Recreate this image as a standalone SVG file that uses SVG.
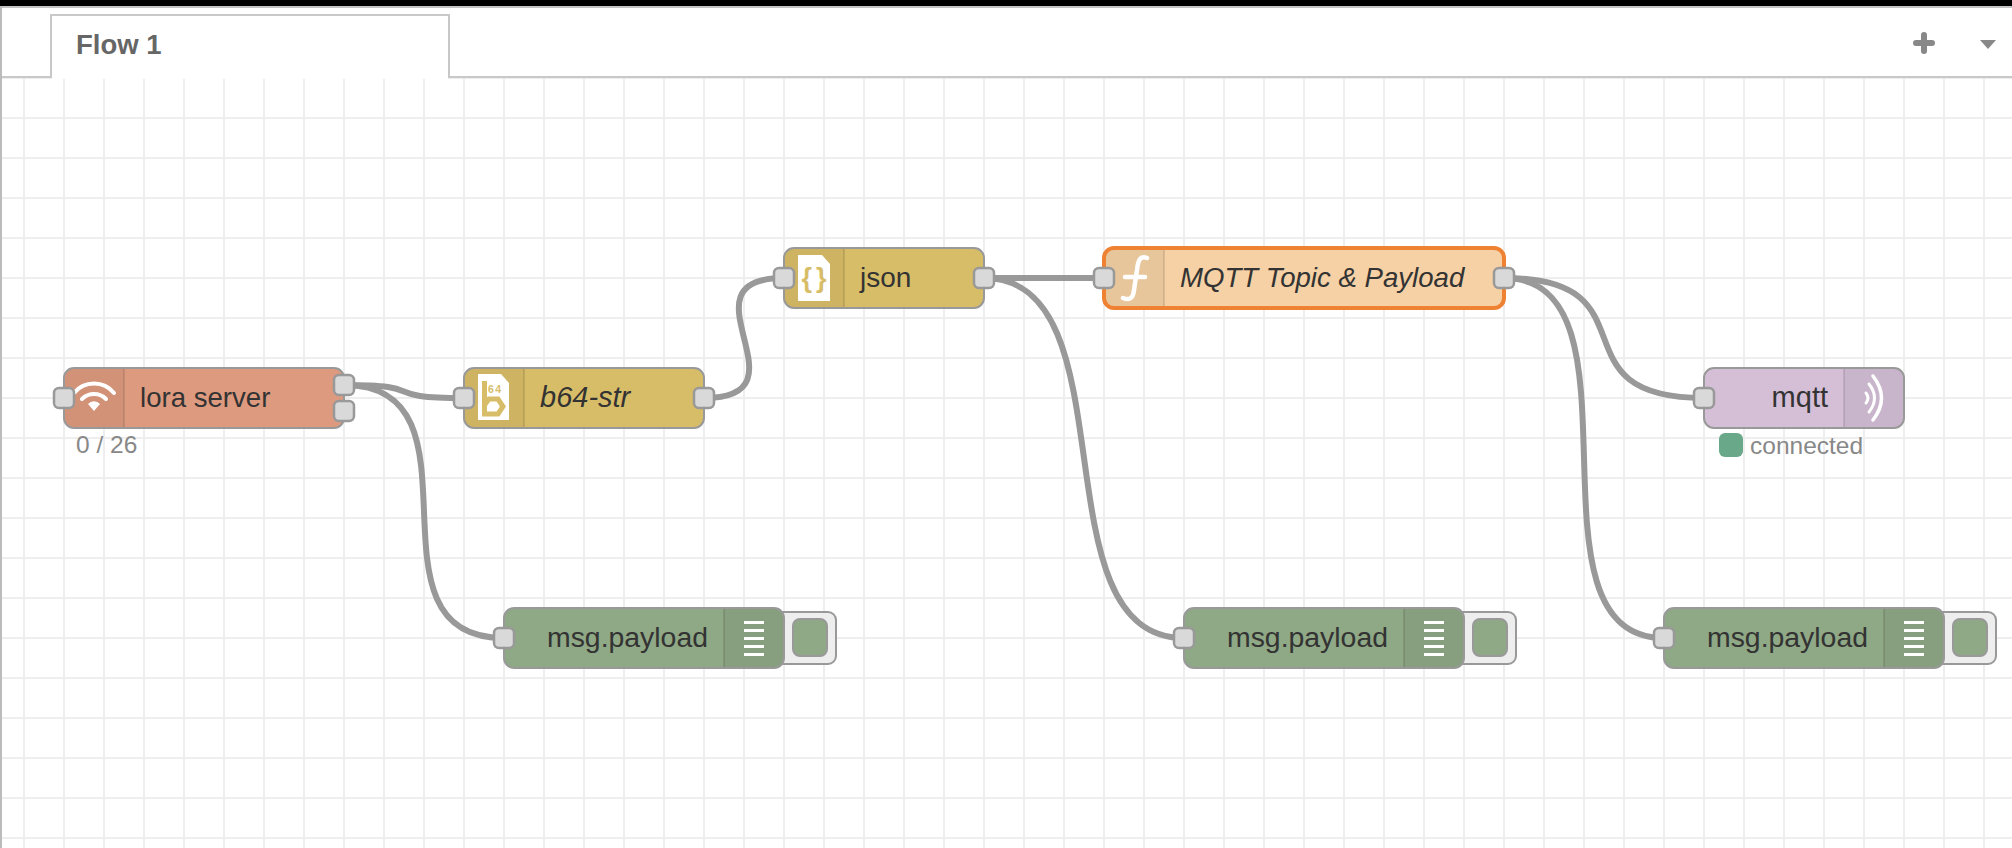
<svg xmlns="http://www.w3.org/2000/svg" width="2012" height="848" viewBox="0 0 2012 848">
<style>
text{font-family:"Liberation Sans",Arial,sans-serif}
.n{stroke:#999;stroke-width:2}
.ic{fill:#000;fill-opacity:.05}
.dv{stroke:#000;stroke-opacity:.1;stroke-width:2}
.l{font-size:28px;fill:#333}
.m{font-size:28.4px}
.i{font-style:italic}
.p{fill:#d9d9d9;stroke:#999;stroke-width:2.5}
.w{fill:none;stroke:#999;stroke-width:6}
.s{font-size:24.5px;fill:#888}
.ws{fill:none;stroke:#fff;stroke-width:4;stroke-linecap:round}
.d{fill:#8fa885}
.b{fill:#eee;stroke:#999;stroke-width:2}
</style>
<defs>
<pattern id="grid" patternUnits="userSpaceOnUse" x="4" y="58" width="40" height="40">
<path d="M20 0V40M0 20H40" stroke="#eee" stroke-width="2" fill="none"/>
</pattern>
<g id="dbgbars" fill="#fff"><rect x="0" y="0" width="20" height="3"/><rect x="0" y="8" width="20" height="3"/><rect x="0" y="16" width="20" height="3"/><rect x="0" y="24" width="20" height="3"/><rect x="0" y="32" width="20" height="3"/></g>
</defs>
<rect width="2012" height="848" fill="#fff"/>
<rect x="2" y="77" width="2010" height="771" fill="url(#grid)"/>
<g id="chrome">
<rect x="0" y="0" width="2012" height="6" fill="#000"/>
<rect x="0" y="6" width="2012" height="2" fill="#c4c4c4"/>
<rect x="0" y="6" width="2" height="842" fill="#bbb"/>
<path d="M2 77H51V15H449V77H2012" fill="none" stroke="#c8c8c8" stroke-width="2"/>
<rect x="52" y="16" width="396" height="63" fill="#fff"/>
<text x="76" y="54" font-size="27.5" font-weight="700" fill="#666">Flow 1</text>
<path d="M1916 43H1932M1924 35V51" stroke="#888" stroke-width="6" stroke-linecap="round"/>
<path d="M1980 40H1996L1988 49Z" fill="#888"/>
</g>
<g id="connectors">
<path class="w" d="M344 385C434 385 374 398 464 398"/>
<path class="w" d="M344 385C494 385 354 638 504 638"/>
<path class="w" d="M704 398C814 398 674 278 784 278"/>
<path class="w" d="M984 278H1104"/>
<path class="w" d="M984 278C1134 278 1034 638 1184 638"/>
<path class="w" d="M1504 278C1659 278 1549 398 1704 398"/>
<path class="w" d="M1504 278C1654 278 1514 638 1664 638"/>
</g>
<g id="node-lora">
<rect class="n" x="64" y="368" width="280" height="60" rx="10" fill="#de9a7f"/>
<path class="ic" d="M65 378a9 9 0 0 1 9-9h50v58H74a9 9 0 0 1-9-9Z"/>
<path class="dv" d="M124 369V427"/>
<path class="ws" d="M74 393A26 26 0 0 1 114 393M82 399A17 17 0 0 1 106 399"/>
<path d="M88 404A8 8 0 0 1 100 404L94 411Z" fill="#fff"/>
<text class="l" x="140" y="407" style="font-size:27.6px">lora server</text>
<text class="s" x="76" y="453">0 / 26</text>
<rect class="p" x="54" y="388" width="20" height="20" rx="5"/>
<rect class="p" x="334" y="375" width="20" height="20" rx="5"/>
<rect class="p" x="334" y="401" width="20" height="20" rx="5"/>
</g>
<g id="node-b64">
<rect class="n" x="464" y="368" width="240" height="60" rx="10" fill="#d8bd68"/>
<path class="ic" d="M465 378a9 9 0 0 1 9-9h50v58H474a9 9 0 0 1-9-9Z"/>
<path class="dv" d="M524 369V427"/>
<path d="M478 374H501L509 383V420H478Z" fill="#fff"/>
<path d="M484.5 381V414H498L503 406.500L498 399H489L484.5 405" fill="none" stroke="#d8bd68" stroke-width="5"/>
<text x="488" y="393" font-size="10.500" font-weight="700" letter-spacing="1.5" fill="#d8bd68">64</text>
<text class="l i" x="540" y="407" style="font-size:29px">b64-str</text>
<rect class="p" x="454" y="388" width="20" height="20" rx="5"/>
<rect class="p" x="694" y="388" width="20" height="20" rx="5"/>
</g>
<g id="node-json">
<rect class="n" x="784" y="248" width="200" height="60" rx="10" fill="#d8bd68"/>
<path class="ic" d="M785 258a9 9 0 0 1 9-9h50v58H794a9 9 0 0 1-9-9Z"/>
<path class="dv" d="M844 249V307"/>
<path d="M798 255H822L830 264V301H798Z" fill="#fff"/>
<text x="816" y="287" font-size="27" font-weight="700" letter-spacing="4" fill="#d8bd68" text-anchor="middle">{}</text>
<text class="l" x="860" y="287">json</text>
<rect class="p" x="774" y="268" width="20" height="20" rx="5"/>
<rect class="p" x="974" y="268" width="20" height="20" rx="5"/>
</g>
<g id="node-function">
<rect x="1104" y="248" width="400" height="60" rx="10" fill="#f5d1a5" stroke="#ee8232" stroke-width="4"/>
<path class="ic" d="M1106 258a8 8 0 0 1 8-8h50v56h-50a8 8 0 0 1-8-8Z"/>
<path class="dv" d="M1164 250V306"/>
<path class="ws" d="M1147 258C1140 255 1138 261 1137 270L1134 290C1133 300 1128 300 1123 298M1125 277H1145" style="stroke-width:4.500px"/>
<text class="l i" x="1180" y="287" style="font-size:27.6px">MQTT Topic &amp; Payload</text>
<rect class="p" x="1094" y="268" width="20" height="20" rx="5"/>
<rect class="p" x="1494" y="268" width="20" height="20" rx="5"/>
</g>
<g id="node-mqtt">
<rect class="n" x="1704" y="368" width="200" height="60" rx="10" fill="#d4bfd6"/>
<path class="ic" d="M1844 369h50a9 9 0 0 1 9 9v40a9 9 0 0 1-9 9h-50Z"/>
<path class="dv" d="M1844 369V427"/>
<path class="ws" d="M1866 393Q1870 398 1866 403M1869 384Q1880 398 1869 412" style="stroke-width:3px"/>
<path class="ws" d="M1873 376Q1890 398 1873 420" style="stroke-width:3.500px"/>
<text class="l" x="1828" y="407" text-anchor="end" style="font-size:29px">mqtt</text>
<rect x="1719" y="433" width="24" height="24" rx="6" fill="#6aa88a"/>
<text class="s" x="1750" y="454">connected</text>
<rect class="p" x="1694" y="388" width="20" height="20" rx="5"/>
</g>
<g id="node-debug1">
<rect class="b" x="774" y="612" width="62" height="52" rx="8"/>
<rect class="d" x="793" y="619" width="34" height="37" rx="7" stroke="#999" stroke-width="2"/>
<rect class="n d" x="504" y="608" width="280" height="60" rx="10"/>
<path class="ic" d="M724 609h50a9 9 0 0 1 9 9v40a9 9 0 0 1-9 9h-50Z"/>
<path class="dv" d="M724 609V667"/>
<use href="#dbgbars" x="744" y="621"/>
<text class="l m" x="708" y="647" text-anchor="end">msg.payload</text>
<rect class="p" x="494" y="628" width="20" height="20" rx="5"/>
</g>
<g id="node-debug2">
<rect class="b" x="1454" y="612" width="62" height="52" rx="8"/>
<rect class="d" x="1473" y="619" width="34" height="37" rx="7" stroke="#999" stroke-width="2"/>
<rect class="n d" x="1184" y="608" width="280" height="60" rx="10"/>
<path class="ic" d="M1404 609h50a9 9 0 0 1 9 9v40a9 9 0 0 1-9 9h-50Z"/>
<path class="dv" d="M1404 609V667"/>
<use href="#dbgbars" x="1424" y="621"/>
<text class="l m" x="1388" y="647" text-anchor="end">msg.payload</text>
<rect class="p" x="1174" y="628" width="20" height="20" rx="5"/>
</g>
<g id="node-debug3">
<rect class="b" x="1934" y="612" width="62" height="52" rx="8"/>
<rect class="d" x="1953" y="619" width="34" height="37" rx="7" stroke="#999" stroke-width="2"/>
<rect class="n d" x="1664" y="608" width="280" height="60" rx="10"/>
<path class="ic" d="M1884 609h50a9 9 0 0 1 9 9v40a9 9 0 0 1-9 9h-50Z"/>
<path class="dv" d="M1884 609V667"/>
<use href="#dbgbars" x="1904" y="621"/>
<text class="l m" x="1868" y="647" text-anchor="end">msg.payload</text>
<rect class="p" x="1654" y="628" width="20" height="20" rx="5"/>
</g>
</svg>
